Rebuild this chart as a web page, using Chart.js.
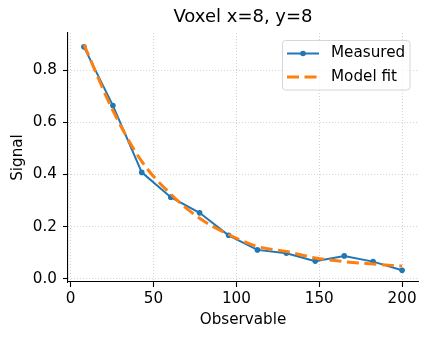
<!DOCTYPE html>
<html lang="en">
<head>
  <meta charset="UTF-8" />
  <title>Voxel x=8, y=8</title>
  <script src="https://cdn.jsdelivr.net/npm/chart.js"></script>
  <style>
    html, body { margin: 0; padding: 0; background: #fff; }
    #wrap { width: 429px; height: 340px; position: relative; }
  </style>
</head>
<body>
  <div id="wrap"><canvas id="chartCanvas"></canvas></div>

  <script>
    const titleText = 'Voxel x=8, y=8';
    const xLabel = 'Observable';
    const yLabel = 'Signal';

    const observable = [8, 25.5, 42.9, 60.4, 77.8, 95.3, 112.7, 130.2, 147.6, 165.1, 182.5, 200];
    const measured = [0.889, 0.664, 0.408, 0.313, 0.253, 0.167, 0.111, 0.098, 0.068, 0.088, 0.066, 0.033];
    const modelFit = [0.898, 0.645, 0.45, 0.325, 0.232, 0.17, 0.124, 0.105, 0.08, 0.066, 0.057, 0.049];

    const xTicks = [0, 50, 100, 150, 200];
    const yTicks = [0, 0.2, 0.4, 0.6, 0.8];

    const BLUE = '#1f77b4';
    const ORANGE = '#ff7f0e';
    const FONT = '"DejaVu Sans", sans-serif';
    const LABEL_SIZE = 15.2;
    const TITLE_SIZE = 18;

    const toPoints = ys => observable.map((x, i) => ({ x: x, y: ys[i] }));

    // title centred over the plot area and a matplotlib-like legend box inside it
    const overlay = {
      id: 'overlay',
      afterDraw(chart) {
        const { ctx, chartArea } = chart;
        ctx.save();
        ctx.fillStyle = '#000';
        ctx.textBaseline = 'middle';
        ctx.textAlign = 'center';
        ctx.font = TITLE_SIZE + 'px ' + FONT;
        ctx.fillText(titleText, (chartArea.left + chartArea.right) / 2, 17.5);

        // legend frame
        const bx = 282.5, by = 40.5, bw = 127.5, bh = 49.5;
        ctx.beginPath();
        ctx.roundRect(bx, by, bw, bh, 3);
        ctx.fillStyle = 'rgba(255,255,255,0.8)';
        ctx.fill();
        ctx.strokeStyle = '#d6d6d6';
        ctx.lineWidth = 1;
        ctx.stroke();

        const items = chart.data.datasets.slice().sort((a, b) => a.legendIndex - b.legendIndex);
        const rows = [53.5, 77];
        items.forEach((ds, i) => {
          const y = rows[i];
          ctx.beginPath();
          ctx.setLineDash(ds.borderDash || []);
          ctx.strokeStyle = ds.borderColor;
          ctx.lineWidth = ds.borderWidth;
          ctx.moveTo(287, y);
          ctx.lineTo(319, y);
          ctx.stroke();
          ctx.setLineDash([]);
          if (ds.pointRadius > 0) {
            ctx.beginPath();
            ctx.arc(303, y, ds.pointRadius, 0, Math.PI * 2);
            ctx.fillStyle = ds.pointBackgroundColor;
            ctx.fill();
          }
          ctx.fillStyle = '#000';
          ctx.textAlign = 'left';
          ctx.font = LABEL_SIZE + 'px ' + FONT;
          ctx.fillText(ds.label, 331, y);
        });
        ctx.restore();
      }
    };

    new Chart(document.getElementById('chartCanvas'), {
      type: 'scatter',
      data: {
        datasets: [
          {
            label: 'Model fit',
            legendIndex: 1,
            order: 0,
            data: toPoints(modelFit),
            showLine: true,
            borderColor: ORANGE,
            backgroundColor: ORANGE,
            borderWidth: 3,
            borderDash: [12, 5.5],
            pointRadius: 0,
            cubicInterpolationMode: 'monotone'
          },
          {
            label: 'Measured',
            legendIndex: 0,
            order: 1,
            data: toPoints(measured),
            showLine: true,
            borderColor: BLUE,
            backgroundColor: BLUE,
            pointBackgroundColor: BLUE,
            pointBorderColor: BLUE,
            borderWidth: 2,
            pointRadius: 2.8,
            pointBorderWidth: 0
          }
        ]
      },
      options: {
        responsive: true,
        maintainAspectRatio: false,
        animation: false,
        events: [],
        layout: { padding: { top: 33, right: 11, left: 0, bottom: 0 } },
        plugins: {
          legend: { display: false },
          tooltip: { enabled: false },
          title: { display: false }
        },
        scales: {
          x: {
            type: 'linear',
            min: -1.6,
            max: 209.6,
            afterBuildTicks: s => { s.ticks = xTicks.map(v => ({ value: v })); },
            afterFit: s => { s.height = 58; },
            ticks: { color: '#000', font: { family: FONT, size: LABEL_SIZE }, padding: 3.2, maxRotation: 0 },
            grid: { color: 'rgba(176,176,176,0.7)', lineWidth: 0.8, tickColor: '#000', tickLength: 5, tickWidth: 1.1, tickBorderDash: [] },
            border: { display: true, color: '#000', width: 1.1, dash: [1, 2] },
            title: { display: true, text: xLabel, color: '#000', font: { family: FONT, size: LABEL_SIZE }, padding: { top: 0, bottom: 10.9 } }
          },
          y: {
            type: 'linear',
            min: -0.012,
            max: 0.942,
            afterBuildTicks: s => { s.ticks = yTicks.map(v => ({ value: v })); },
            afterFit: s => { s.width = 68; },
            ticks: { color: '#000', font: { family: FONT, size: LABEL_SIZE }, padding: 6, callback: v => v.toFixed(1) },
            grid: { color: 'rgba(176,176,176,0.7)', lineWidth: 0.8, tickColor: '#000', tickLength: 5, tickWidth: 1.1, tickBorderDash: [] },
            border: { display: true, color: '#000', width: 1.1, dash: [1, 2] },
            title: { display: true, text: yLabel, color: '#000', font: { family: FONT, size: LABEL_SIZE }, padding: { top: 8.5, bottom: 0 } }
          }
        }
      },
      plugins: [overlay]
    });
  </script>
</body>
</html>
